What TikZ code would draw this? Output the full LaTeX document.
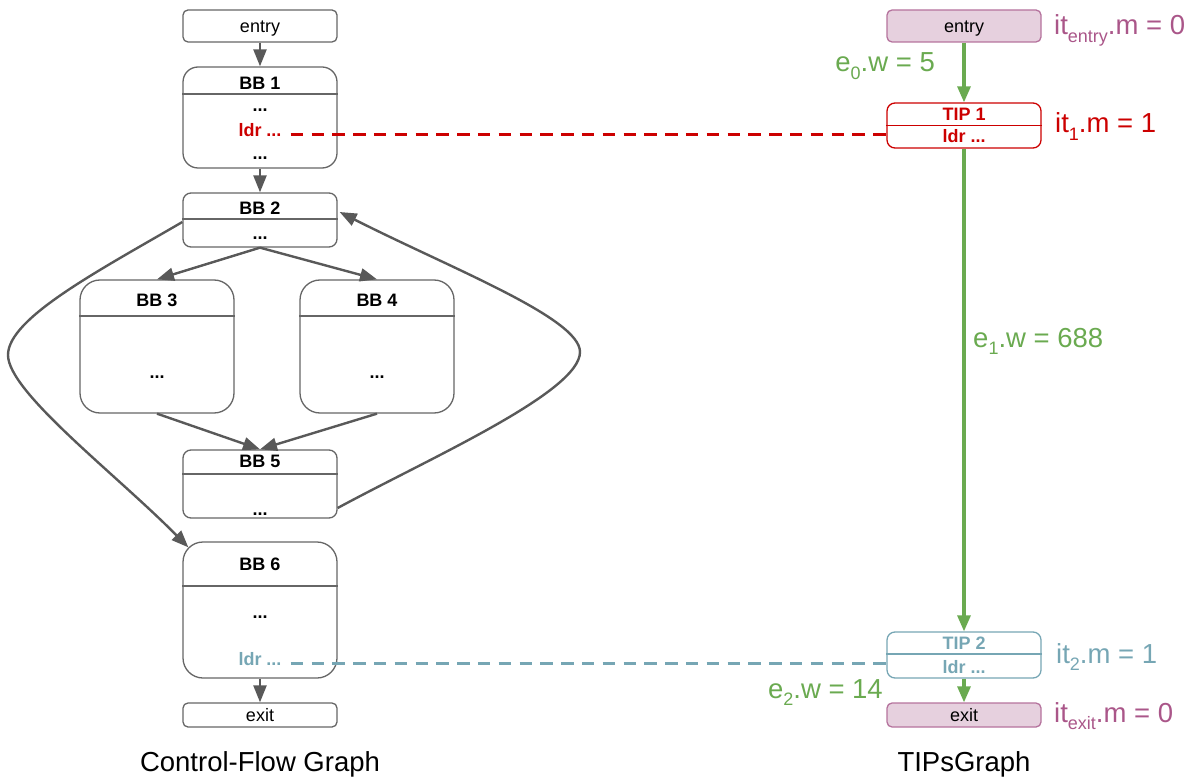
\documentclass[tikz,border=0pt]{standalone}
\usepackage{fontspec}
\setmainfont{Liberation Sans}
\usetikzlibrary{arrows.meta}

\definecolor{boxgray}{HTML}{666666}
\definecolor{edgegray}{HTML}{595959}
\definecolor{ldrred}{HTML}{CC0000}
\definecolor{ldrteal}{HTML}{76A6B4}
\definecolor{flowgreen}{HTML}{6AAA50}
\definecolor{pinkfill}{HTML}{E6D0DE}
\definecolor{pinkline}{HTML}{B5739D}
\definecolor{pinktext}{HTML}{AA5689}

% lowered, smaller index text for the annotations
\newcommand\idx[1]{\raisebox{-0.27em}{\fontsize{18}{18}\selectfont #1}}

\begin{document}
\begin{tikzpicture}[x=1pt,y=-1pt,
  box/.style={draw=boxgray, line width=1.3pt, minimum width=154pt, inner sep=0pt},
  sepline/.style={draw=boxgray, line width=1.3pt},
  txt/.style={inner sep=0pt, anchor=base, font=\fontsize{18}{20}\selectfont},
  btxt/.style={txt, font=\fontsize{18}{20}\selectfont\bfseries},
  note/.style={inner sep=0pt, font=\fontsize{27.5}{32}\selectfont},
  flow/.style={draw=edgegray, line width=2.4pt, -{Triangle[length=17pt,width=13pt]}},
  gflow/.style={draw=flowgreen, line width=3.2pt, -{Triangle[length=16pt,width=13pt]}},
  link/.style={line width=3pt, dash pattern=on 12.5pt off 8.3pt},
]
\useasboundingbox (0,0) rectangle (1193,783);

% ---------------- control-flow graph ----------------
\node[box, rounded corners=5pt, minimum height=32pt] (entry) at (260,26) {};
\node[txt] (entryT) at (260,33) {entry};

\node[box, rounded corners=15pt, minimum height=101pt] (bb1) at (260,117.5) {};
\draw[sepline] (bb1.west |- 0,94) -- (bb1.east |- 0,94);
\node[btxt] (bb1T) at (260,90) {BB 1};
\node[btxt] (bb1a) at (260,112) {...};
\node[btxt, text=ldrred] (ldrA) at (260,137) {ldr ...};
\node[btxt] (bb1b) at (260,160) {...};

\node[box, rounded corners=8pt, minimum height=54pt] (bb2) at (260,220) {};
\draw[sepline] (bb2.west |- 0,219) -- (bb2.east |- 0,219);
\node[btxt] (bb2T) at (260,215) {BB 2};
\node[btxt] (bb2a) at (260,240) {...};

\node[box, rounded corners=20pt, minimum height=133pt] (bb3) at (157,346.5) {};
\draw[sepline] (bb3.west |- 0,316) -- (bb3.east |- 0,316);
\node[btxt] (bb3T) at (157,307) {BB 3};
\node[btxt] (bb3a) at (157,378) {...};

\node[box, rounded corners=20pt, minimum height=133pt] (bb4) at (377,346.5) {};
\draw[sepline] (bb4.west |- 0,316) -- (bb4.east |- 0,316);
\node[btxt] (bb4T) at (377,307) {BB 4};
\node[btxt] (bb4a) at (377,378) {...};

\node[box, rounded corners=8pt, minimum height=68pt] (bb5) at (260,484) {};
\draw[sepline] (bb5.west |- 0,474) -- (bb5.east |- 0,474);
\node[btxt] (bb5T) at (260,467) {BB 5};
\node[btxt] (bb5a) at (260,515) {...};

\node[box, rounded corners=20pt, minimum height=136pt] (bb6) at (260,610) {};
\draw[sepline] (bb6.west |- 0,586) -- (bb6.east |- 0,586);
\node[btxt] (bb6T) at (260,570) {BB 6};
\node[btxt] (bb6a) at (260,618) {...};
\node[btxt, text=ldrteal] (ldrB) at (260,665) {ldr ...};

\node[box, rounded corners=5pt, minimum height=24pt] (exit) at (260,715) {};
\node[txt] (exitT) at (260,721) {exit};

\draw[flow] (entry.south) -- (bb1.north);
\draw[flow] (bb1.south) -- (bb2.north);
\draw[flow] (bb2.south) -- (bb3.north);
\draw[flow] (bb2.south) -- (bb4.north);
\draw[flow] (bb3.south) -- (bb5.north);
\draw[flow] (bb4.south) -- (bb5.north);
\draw[flow] (bb6.south) -- (exit.north);
% BB 2 -> BB 6, around the left side
\draw[flow] ([yshift=-2pt]bb2.west) .. controls (100,270) and (8,318) .. (8,355)
  .. controls (8,392) and (116,474) .. ([shift={(6pt,-6pt)}]bb6.north west);
% BB 5 -> BB 2, back edge around the right side
\draw[flow] ([yshift=-24pt]bb5.east) .. controls (430,458) and (580,392) .. (580,352)
  .. controls (580,318) and (450,268) .. ([xshift=2pt,yshift=8pt]bb2.east);

\node[note, anchor=base] (cfgcap) at (260,771) {Control-Flow Graph};

% ---------------- TIPs graph ----------------
\node[box, draw=pinkline, fill=pinkfill, rounded corners=5pt, minimum height=32pt] (tentry) at (964,26) {};
\node[txt] (tentryT) at (964,33) {entry};

\node[box, draw=ldrred, rounded corners=8pt, minimum height=45pt] (tip1) at (964,125.5) {};
\draw[sepline, draw=ldrred] (tip1.west |- 0,125.5) -- (tip1.east |- 0,125.5);
\node[btxt, text=ldrred] (tip1T) at (964,121) {TIP 1};
\node[btxt, text=ldrred] (tip1a) at (964,143) {ldr ...};

\node[box, draw=ldrteal, rounded corners=8pt, minimum height=46pt] (tip2) at (964,655) {};
\draw[sepline, draw=ldrteal] (tip2.west |- 0,654) -- (tip2.east |- 0,654);
\node[btxt, text=ldrteal] (tip2T) at (964,649) {TIP 2};
\node[btxt, text=ldrteal] (tip2a) at (964,673) {ldr ...};

\node[box, draw=pinkline, fill=pinkfill, rounded corners=5pt, minimum height=24pt] (texit) at (964,715) {};
\node[txt] (texitT) at (964,721) {exit};

\draw[gflow] (tentry.south) -- (tip1.north);
\draw[gflow] (tip1.south) -- (tip2.north);
\draw[gflow] (tip2.south) -- (texit.north);

% load instructions linked to their TIPs
\draw[link, draw=ldrred] ([xshift=9pt,yshift=2pt]ldrA.base east) -- ([yshift=2pt]ldrA.base east -| tip1.west);
\draw[link, draw=ldrteal] ([xshift=9pt,yshift=2pt]ldrB.base east) -- ([yshift=2pt]ldrB.base east -| tip2.west);

% annotations
\node[note, anchor=base west, text=pinktext] (mEntry) at (1054,35) {it\idx{entry}.m = 0};
\node[note, anchor=base west, text=ldrred] (m1) at (1055,133) {it\idx{1}.m = 1};
\node[note, anchor=base west, text=ldrteal] (m2) at (1056,663) {it\idx{2}.m = 1};
\node[note, anchor=base west, text=pinktext] (mExit) at (1054,722) {it\idx{exit}.m = 0};
\node[note, anchor=base east, text=flowgreen] (w0) at (935,72) {e\idx{0}.w = 5};
\node[note, anchor=base west, text=flowgreen] (w1) at (973,347) {e\idx{1}.w = 688};
\node[note, anchor=base east, text=flowgreen] (w2) at (883,698) {e\idx{2}.w = 14};

\node[note, anchor=base] (tipcap) at (964,771) {TIPsGraph};
\end{tikzpicture}
\end{document}
